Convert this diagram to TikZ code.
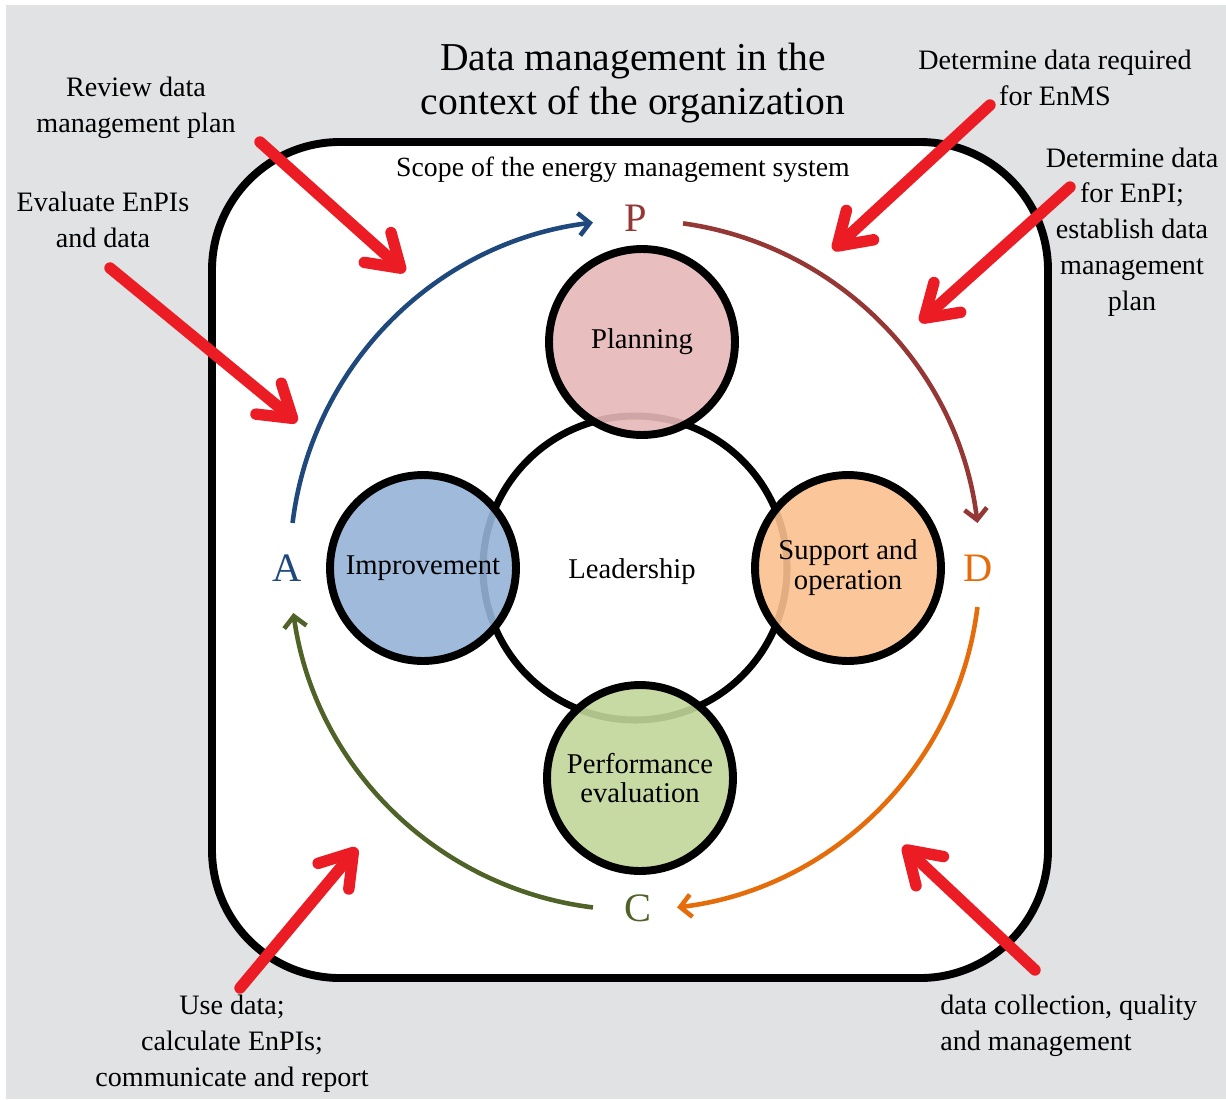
\documentclass[tikz,border=0pt]{standalone}
\usepackage{fontspec}
\setmainfont{Liberation Serif}
\usetikzlibrary{arrows.meta}

\definecolor{fondo}{HTML}{E1E2E4}
\definecolor{rojo}{HTML}{EC1C24}
\definecolor{azul}{HTML}{1F497D}
\definecolor{granate}{HTML}{953735}
\definecolor{naranja}{HTML}{E46C0A}
\definecolor{verde}{HTML}{4F6228}
\definecolor{rosa}{HTML}{E6B9B8}
\definecolor{celeste}{HTML}{95B3D7}
\definecolor{melocoton}{HTML}{FAC090}
\definecolor{pistacho}{HTML}{C3D69B}

\begin{document}
\begin{tikzpicture}[x=0.02cm, y=0.02cm,
    flecha/.style={draw=rojo, line width=6.5pt, line cap=round,
        -{Straight Barb[length=0.62cm, width=0.8cm, round]}},
    ciclo/.style={line width=2.6pt, -{Straight Barb[length=0.22cm, width=0.45cm]}},
    etiqueta/.style={align=center, inner sep=0pt, font=\fontsize{16}{20.4}\selectfont},
    fase/.style={circle, draw=black, line width=4.5pt, minimum size=3.72cm, inner sep=0pt,
        align=center, fill opacity=0.9, text opacity=1, font=\fontsize{16.3}{17}\selectfont},
    letra/.style={inner sep=0pt, font=\fontsize{23}{23}\selectfont}]
    \useasboundingbox (0,0) rectangle (1226,-1099);

    % Fondo
    \fill[white] (0,0) rectangle (1226,-1099);
    \fill[fondo] (6,-5) rectangle (1226,-1099);

    % Alcance del sistema
    \draw[line width=4.5pt, fill=white, rounded corners=2.56cm] (212,-142) rectangle (1048,-978);
    \node[font=\fontsize{22.5}{25.5}\selectfont, align=center] (titulo) at (633,-83)
        {Data management in the\\context of the organization};
    \node[font=\fontsize{15.8}{17}\selectfont] (alcance) at (623,-170) {Scope of the energy management system};

    % Liderazgo y fases
    \coordinate (centro) at (635,-565);
    \draw[line width=4pt] (635,-568) circle (152);
    \node[font=\fontsize{16.3}{17}\selectfont] (lider) at (632,-572) {Leadership};
    \node[fase, fill=rosa] (plan) at (642,-342) {Planning};
    \node[fase, fill=celeste] (mejora) at (423,-568) {Improvement};
    \node[fase, fill=melocoton] (soporte) at (848,-568) {Support and\\operation};
    \node[fase, fill=pistacho] (desempeno) at (640,-778) {Performance\\evaluation};

    % Ciclo PDCA
    \node[letra, text=granate] (P) at (636,-218) {P};
    \node[letra, text=naranja] (D) at (978,-568) {D};
    \node[letra, text=verde] (C) at (638,-908) {C};
    \node[letra, text=azul] (A) at (287,-568) {A};
    \draw[ciclo, azul] (centro) ++(173:345) arc[start angle=173, end angle=97, radius=345];
    \draw[ciclo, granate] (centro) ++(82:345) arc[start angle=82, end angle=7, radius=345];
    \draw[ciclo, naranja] (centro) ++(-7:345) arc[start angle=-7, end angle=-83, radius=345];
    \draw[ciclo, verde] (centro) ++(-97:345) arc[start angle=-97, end angle=-172, radius=345];

    % Actividades de datos
    \node[etiqueta] (revisar) at (136,-108) {Review data\\management plan};
    \node[etiqueta] (evaluar) at (103,-220) {Evaluate EnPIs\\and data};
    \node[etiqueta] (requerir) at (1055,-78) {Determine data required\\for EnMS};
    \node[etiqueta] (enpi) at (1132,-232) {Determine data\\for EnPI;\\establish data\\management\\plan};
    \node[etiqueta] (usar) at (232,-1044) {Use data;\\calculate EnPIs;\\communicate and report};
    \node[etiqueta, align=left, anchor=west] (recoger) at (940,-1026) {data collection, quality\\and management};

    % Flechas rojas
    \coordinate (r1a) at (260,-142);  \coordinate (r1b) at (405,-272);
    \coordinate (r2a) at (110,-268);  \coordinate (r2b) at (297,-422);
    \coordinate (r3a) at (990,-105);  \coordinate (r3b) at (833,-250);
    \coordinate (r4a) at (1070,-187); \coordinate (r4b) at (920,-322);
    \coordinate (r5a) at (240,-988);  \coordinate (r5b) at (357,-848);
    \coordinate (r6a) at (1035,-970); \coordinate (r6b) at (903,-846);
    \foreach \i in {1,...,6}
        \draw[flecha] (r\i a) -- (r\i b);
\end{tikzpicture}
\end{document}
